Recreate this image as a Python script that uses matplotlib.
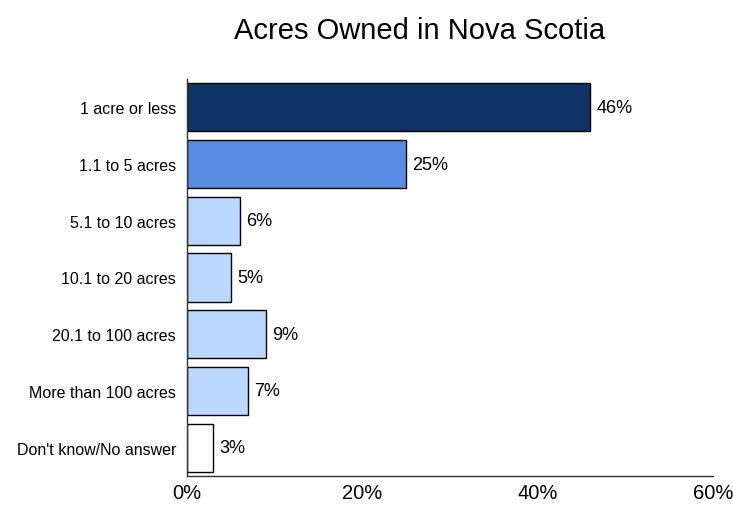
import matplotlib.pyplot as plt

plt.rcParams['font.family'] = ['Liberation Sans', 'DejaVu Sans']

categories = ["1 acre or less", "1.1 to 5 acres", "5.1 to 10 acres",
              "10.1 to 20 acres", "20.1 to 100 acres", "More than 100 acres",
              "Don't know/No answer"]
values = [46, 25, 6, 5, 9, 7, 3]
bar_colors = ["#0F3467", "#588BE2", "#BAD7FD", "#BAD7FD", "#BAD7FD",
              "#BAD7FD", "#FFFFFF"]
x_ticks = [0, 20, 40, 60]

fig = plt.figure(figsize=(7.33, 5.06), dpi=100)
ax = fig.add_axes([0.2551, 0.0573, 0.7176, 0.7847])

pos = range(len(categories))
ax.barh(pos, values, height=0.85, color=bar_colors, edgecolor="black",
        linewidth=1)
for p, v in zip(pos, values):
    ax.text(v + 0.7, p, f"{v}%", va="center", ha="left", fontsize=13)

ax.set_ylim(6.5, -0.5)
ax.set_xlim(0, 60)
ax.set_yticks(list(pos))
ax.set_yticklabels(categories, fontsize=11.5)
ax.set_xticks(x_ticks)
ax.set_xticklabels([f"{t}%" for t in x_ticks], fontsize=14.5)
ax.tick_params(length=0)
ax.tick_params(axis="x", pad=5)
ax.tick_params(axis="y", pad=8)

for side in ("top", "right"):
    ax.spines[side].set_visible(False)
for side in ("left", "bottom"):
    ax.spines[side].set_color("#333333")
    ax.spines[side].set_linewidth(1)

fig.suptitle("Acres Owned in Nova Scotia", x=0.573, y=0.966, fontsize=21)

fig.savefig("out.png", dpi=100)
